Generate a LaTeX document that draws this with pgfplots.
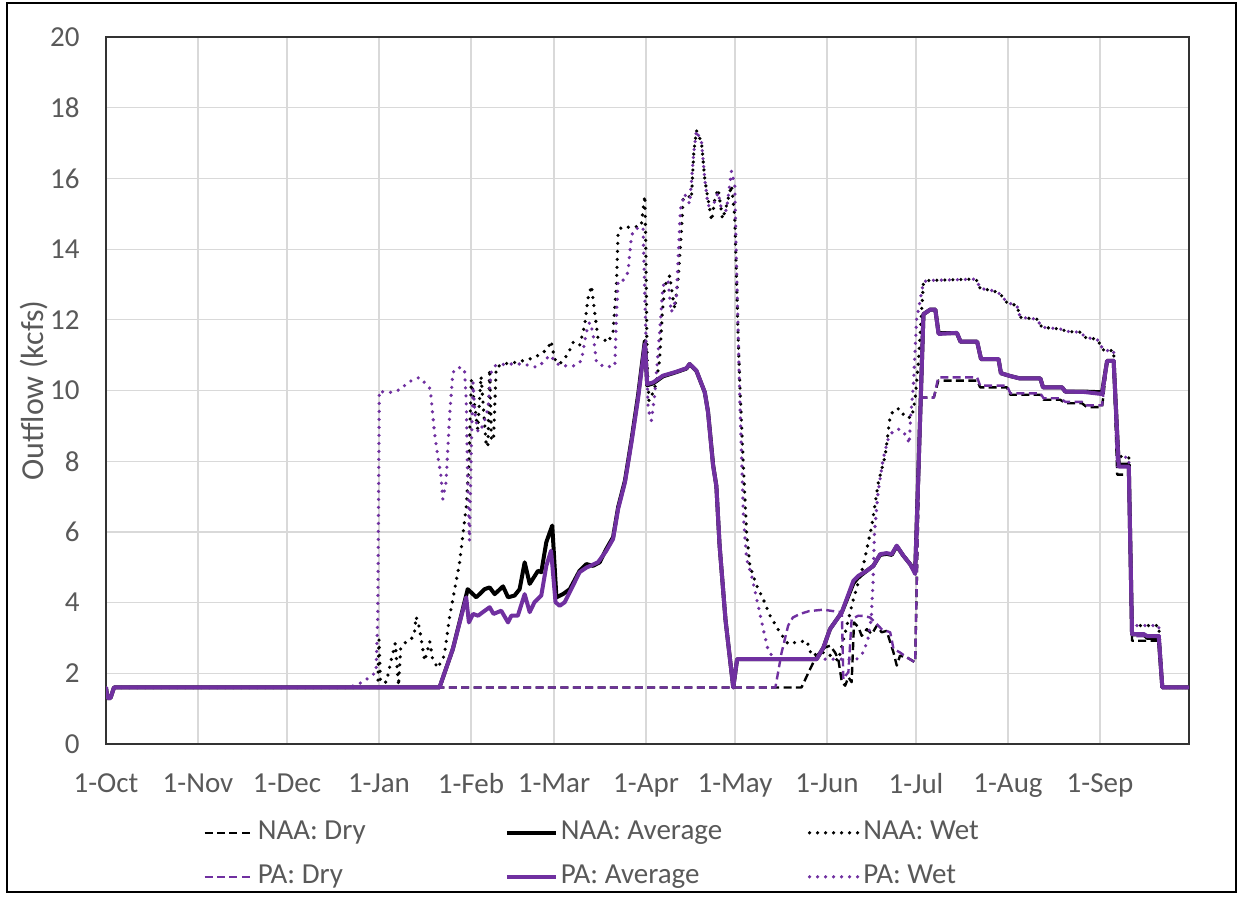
\documentclass[border=0pt]{standalone}
\usepackage{fontspec}
\setmainfont{Carlito}
\usepackage{pgfplots}
\pgfplotsset{compat=1.18}
\definecolor{pur}{HTML}{7030A0}
\definecolor{txt}{HTML}{595959}
\definecolor{grd}{HTML}{D9D9D9}
\newcommand{\lent}[1]{\makebox[125pt][l]{\hspace*{1.5pt}#1}}
\begin{document}
\begin{tikzpicture}
\begin{axis}[
 scale only axis, width=541.5pt, height=353.5pt,
 xmin=0, xmax=365, ymin=0, ymax=20,
 xtick={0,31,61,92,123,151,182,212,243,273,304,335},
 xticklabels={1-Oct,1-Nov,1-Dec,1-Jan,1-Feb,1-Mar,1-Apr,1-May,1-Jun,1-Jul,1-Aug,1-Sep},
 ytick={0,2,...,20},
 grid=major, major grid style={grd, line width=0.6pt},
 major tick length=0pt,
 axis line style={black!80, line width=0.8pt},
 tick label style={font=\fontsize{14.5}{17}\selectfont, text=txt},
 /pgf/number format/assume math mode=true,
 xticklabel style={anchor=north, inner sep=0pt, yshift=-14.5pt},
 yticklabel style={anchor=east, inner sep=0pt, xshift=-13pt},
 ylabel={Outflow (kcfs)},
 every axis y label/.style={at={(axis description cs:-0.0665,0.5)}, rotate=90, anchor=center, font=\fontsize{16}{19}\selectfont, text=txt},
 legend columns=3,
 legend style={at={(0,0)}, anchor=north west, xshift=48.5pt, yshift=-37.7pt, draw=none, fill=none, inner sep=0pt, font=\fontsize{14.5}{17}\selectfont, text=txt, /tikz/every even column/.style={column sep=0pt}, row sep=9pt, nodes={inner sep=0pt, text height=10pt, text depth=3pt}},
 legend cell align=left,
 legend image code/.code={\draw[#1] (0pt,0pt) -- (24.5pt,0pt);},
 dryst/.style={line width=1.2pt, dash pattern=on 4pt off 2.2pt, line join=round},
 avgst/.style={line width=2pt, line join=round},
 wetst/.style={line width=1.8pt, dash pattern=on 0pt off 4pt, line cap=round, line join=round},
]
% NAA: Dry
\addplot[black, dryst] coordinates {
(0,1.6)(0.5,1.3)(1.5,1.3)(2.7,1.6)(234.4,1.6)(237.3,2.12)(239.5,2.5)(242.3,2.73)(244,2.78)(245.7,2.59)(246.8,2.4)(248,1.75)(249.1,1.65)(250.2,1.89)(251.3,1.75)(252.1,3.44)(253.6,3.3)(254.7,3.06)(256.4,3.25)(258.1,3.11)(259.8,3.35)(261.4,3.16)(263.1,3.2)(264.3,2.88)(265.4,2.59)(266.5,2.22)(267.6,2.5)(269.9,2.45)(272.7,2.31)(274.5,9.8)(279,9.8)(280.5,10.28)(293.6,10.28)(294.6,10.09)(303.6,10.09)(304.8,9.88)(314.9,9.88)(316,9.74)(321.6,9.74)(323.3,9.64)(328.9,9.64)(330.6,9.53)(335.7,9.53)(337.4,10.8)(339.6,10.8)(340.8,7.62)(344.7,7.62)(345.8,2.92)(354.8,2.92)(356,1.6)(365,1.6)};
\addlegendentry{\lent{NAA: Dry}}
% NAA: Average
\addplot[black, avgst] coordinates {
(0,1.6)(0.5,1.3)(1.5,1.3)(2.7,1.6)(112.4,1.6)(116.9,2.69)(119.7,3.63)(121.9,4.38)(124.8,4.15)(127.6,4.38)(129.3,4.43)(131,4.24)(133.8,4.46)(135.5,4.15)(137.7,4.2)(139.4,4.38)(141.1,5.14)(142.8,4.53)(145.6,4.9)(146.7,4.86)(148.4,5.71)(150.4,6.18)(151.8,4.15)(154,4.24)(156.3,4.38)(159.6,4.9)(161.9,5.09)(164.1,5.04)(166.4,5.14)(168.5,5.5)(170.9,5.85)(172.6,6.7)(174.9,7.45)(177.1,8.6)(179.3,9.85)(181.6,11.4)(182.4,10.15)(184.4,10.2)(187.7,10.4)(192.2,10.52)(195.6,10.62)(196.7,10.75)(199,10.55)(201.8,9.95)(202.9,9.4)(204.6,7.9)(205.7,7.3)(206.8,5.6)(208.8,3.5)(210.3,2.4)(211.4,1.6)(212.7,2.4)(239.5,2.4)(241.8,2.73)(244,3.25)(248,3.73)(251.9,4.55)(253.6,4.72)(256.4,4.9)(258.6,5.04)(260.9,5.35)(263.1,5.38)(264.8,5.35)(266.5,5.6)(268.7,5.33)(271,5.09)(272.7,4.86)(275.5,12.16)(277.8,12.29)(279.5,12.29)(280.6,11.62)(286.8,11.62)(288,11.38)(293.6,11.38)(294.9,10.89)(300.8,10.89)(301.6,10.49)(304.7,10.41)(308.1,10.34)(314.9,10.34)(315.8,10.09)(322.2,10.09)(323.3,9.97)(329.5,9.97)(335.7,9.95)(337.4,10.84)(339.6,10.84)(341.3,7.9)(344.7,7.9)(345.8,3.1)(349.7,3.1)(351,3.0)(354.8,3.0)(356,1.6)(365,1.6)};
\addlegendentry{\lent{NAA: Average}}
% NAA: Wet
\addplot[black, wetst] coordinates {
(0,1.6)(0.5,1.3)(1.5,1.3)(2.7,1.6)(91.6,1.6)(92.0,2.95)(92.5,1.75)(94.5,1.75)(95.9,2.3)(97.5,2.85)(98.6,1.65)(99.3,2.7)(100.5,2.85)(102.7,2.95)(103.9,3.1)(104.5,3.6)(105.6,3.3)(107.4,2.35)(109.1,2.9)(110.1,2.4)(111.8,2.15)(114,2.5)(115.8,3.6)(119.1,5.1)(121.4,6.7)(122.3,7.9)(123.1,10.3)(125.3,8.9)(126.4,10.4)(128.1,8.5)(128.7,8.4)(129.3,10.6)(129.9,8.6)(130.6,8.6)(131.5,10.65)(133.7,10.75)(138.3,10.8)(142.8,10.89)(146.7,11.03)(149,11.2)(150,11.4)(151.2,10.89)(152.9,10.75)(155.7,11.03)(157.4,11.36)(159.6,11.27)(161.3,11.83)(162.4,12.59)(163.6,12.96)(164.7,12.21)(165.8,11.5)(167.5,11.46)(169.2,11.36)(170.9,11.65)(172,12.96)(172.6,14.47)(173.7,14.62)(177.6,14.62)(180.4,14.66)(181,15.13)(181.6,15.51)(181.9,14.19)(182.4,10.7)(183,9.71)(184.4,9.95)(185.5,10.23)(186.6,10.89)(187.5,12.21)(188.3,12.96)(190,13.25)(191.1,12.59)(191.7,12.31)(192.8,13.15)(193.9,14.47)(194.5,15.42)(196.2,15.51)(197.3,15.42)(198.1,16.74)(199,17.35)(200.7,17.02)(201.8,15.98)(202.9,15.42)(204.1,14.8)(205.2,15.42)(206.3,15.7)(207.8,14.85)(209.1,15.23)(210.8,15.8)(211.9,14.94)(213,11.65)(213.6,10.2)(214.8,7.87)(215.9,5.98)(217,5.04)(219.3,4.48)(221.5,4.1)(223.8,3.63)(227.1,3.16)(229.9,2.83)(232.8,2.88)(236.2,2.92)(237.8,2.5)(242.3,2.6)(245.1,2.45)(246.8,2.36)(251.9,4.1)(255.2,5.04)(258.1,6.18)(260.3,7.4)(262.6,8.15)(264.3,9.29)(265.9,9.48)(267.6,9.48)(269.3,9.24)(271.6,9.24)(272.7,9.76)(273.8,10.8)(275.5,13.06)(276.6,13.11)(292.3,13.15)(293.5,13.11)(294.6,12.89)(299.1,12.82)(301.4,12.73)(303.6,12.49)(307,12.4)(308.1,12.07)(313.7,12.02)(315.4,11.79)(321.6,11.74)(323.9,11.67)(328.4,11.65)(330.1,11.5)(334,11.45)(336.3,11.13)(339.6,11.13)(340.8,8.15)(344.7,8.1)(345.8,3.35)(354.8,3.35)(356,1.6)(365,1.6)};
\addlegendentry{\lent{NAA: Wet}}
% PA: Dry
\addplot[pur, dryst] coordinates {
(0,1.6)(0.5,1.3)(1.5,1.3)(2.7,1.6)(225.6,1.6)(227.7,2.59)(229.9,3.35)(231.5,3.58)(233.9,3.68)(237,3.76)(241.8,3.8)(245,3.76)(248,3.73)(248.5,1.83)(249.4,1.95)(250.2,2.03)(251.3,3.54)(253.6,3.63)(255.5,3.62)(257.5,3.58)(259.8,3.39)(261.4,3.25)(264.3,3.16)(265.4,2.69)(267.6,2.59)(269.9,2.45)(272.7,2.31)(274.5,9.8)(279,9.8)(280.5,10.37)(293.6,10.37)(294.6,10.14)(303.6,10.14)(304.8,9.92)(314.9,9.92)(316,9.78)(321.6,9.78)(323.3,9.68)(328.9,9.68)(330.6,9.58)(335.7,9.58)(337.4,10.85)(339.6,10.85)(340.8,7.85)(344.7,7.85)(345.8,3.05)(354.8,3.05)(356,1.6)(365,1.6)};
\addlegendentry{\lent{PA: Dry}}
% PA: Average
\addplot[pur, avgst] coordinates {
(0,1.6)(0.5,1.3)(1.5,1.3)(2.7,1.6)(112.4,1.6)(116.9,2.69)(119.7,3.6)(121.4,4.15)(122.3,3.44)(123.7,3.68)(125.4,3.63)(127,3.73)(129.3,3.87)(130.6,3.68)(133.2,3.77)(135.5,3.44)(136.6,3.63)(138.8,3.63)(141.1,4.24)(142.8,3.73)(144.4,4.01)(146.7,4.2)(148.4,5.04)(150,5.47)(151.5,4.01)(152.9,3.91)(154.6,4.01)(156.8,4.38)(159.6,4.86)(161.9,4.99)(165.8,5.14)(168.5,5.45)(170.9,5.8)(172.6,6.65)(174.9,7.4)(177.1,8.53)(179.3,9.76)(181.6,11.32)(182.4,10.18)(184.4,10.23)(187.7,10.42)(192.2,10.53)(195.6,10.63)(196.7,10.75)(199,10.56)(201.8,9.95)(202.9,9.38)(204.6,7.87)(205.7,7.31)(206.8,5.61)(208.8,3.5)(210.3,2.4)(211.4,1.6)(212.7,2.4)(239.5,2.4)(241.8,2.73)(244,3.25)(248,3.73)(251.9,4.62)(253.6,4.76)(256.4,4.9)(258.6,5.04)(260.9,5.37)(263.1,5.4)(264.8,5.37)(266.5,5.61)(268.7,5.33)(271,5.09)(272.7,4.81)(275.5,12.16)(277.8,12.29)(279.5,12.29)(280.6,11.6)(286.8,11.63)(288,11.38)(293.6,11.38)(294.9,10.89)(300.8,10.89)(301.6,10.49)(304.7,10.41)(308.1,10.34)(314.9,10.34)(315.8,10.09)(322.2,10.09)(323.3,9.97)(329.5,9.96)(335.7,9.9)(337.4,10.84)(339.6,10.84)(341.3,7.85)(344.7,7.85)(345.8,3.11)(349.7,3.11)(351,3.05)(354.8,3.05)(356,1.6)(365,1.6)};
\addlegendentry{\lent{PA: Average}}
% PA: Wet
\addplot[pur, wetst] coordinates {
(0,1.6)(0.5,1.3)(1.5,1.3)(2.7,1.6)(82,1.6)(86.5,1.75)(88.8,1.89)(91,2.03)(91.6,3.63)(92.1,9.99)(93.8,9.95)(96.6,9.95)(99.4,10.04)(101.7,10.23)(105.6,10.37)(109,10.09)(109.5,9.85)(110.7,8.82)(111.8,8.15)(112.9,7.59)(113.5,6.93)(114.6,7.4)(115.8,9.29)(116.9,10.51)(118.6,10.66)(120.8,10.61)(121.4,9.76)(121.9,7.4)(122.5,5.75)(123.1,8.34)(123.7,10.23)(124.3,9.38)(125.4,8.82)(127,9.0)(128.7,9.48)(129.8,10.51)(131,10.7)(134.9,10.75)(140.5,10.75)(145,10.66)(147.5,10.8)(149.5,11.0)(152.9,10.7)(154.6,10.7)(158,10.7)(160.2,10.84)(161.9,11.65)(163,11.93)(164.1,11.65)(165.3,10.8)(168.1,10.66)(171.5,10.7)(172,12.02)(172.6,13.11)(174.2,13.11)(175.9,13.34)(177.1,14.38)(178.2,14.57)(181,14.62)(181.9,11.65)(182.7,9.48)(183.8,9.15)(184.9,9.85)(186.6,11.65)(187.7,12.96)(189.4,13.11)(190.5,12.21)(192.2,12.59)(193.6,15.13)(195,15.56)(196.7,15.28)(198.1,16.74)(199,17.35)(200.7,17.02)(201.8,15.98)(202.9,15.23)(204.6,15.23)(206.3,15.6)(207.4,15.13)(209.1,15.09)(210.8,16.21)(211.9,15.8)(212.5,13.53)(213.6,9.76)(214.8,6.46)(215.9,5.23)(217.6,4.76)(219.8,3.91)(221.5,3.25)(223.2,2.64)(224.9,2.45)(226,2.4)(253,2.4)(255.2,2.59)(256.8,2.97)(257.9,3.54)(258.5,4.57)(259,5.98)(260.2,7.12)(261.9,8.06)(263.6,8.63)(265.3,8.86)(267.5,8.91)(269.8,8.72)(270.7,8.49)(271.2,9.29)(272.1,10.14)(273.2,12.02)(275.5,13.06)(276.6,13.11)(292.3,13.15)(293.5,13.11)(294.6,12.89)(299.1,12.82)(301.4,12.73)(303.6,12.49)(307,12.4)(308.1,12.07)(313.7,12.02)(315.4,11.79)(321.6,11.74)(323.9,11.67)(328.4,11.65)(330.1,11.5)(334,11.45)(336.3,11.13)(339.6,11.13)(340.8,8.15)(344.7,8.1)(345.8,3.35)(354.8,3.35)(356,1.6)(365,1.6)};
\addlegendentry{\lent{PA: Wet}}
\end{axis}
\pgfresetboundingbox
\useasboundingbox (-53pt,-76pt) rectangle (567.5pt,372pt);
\draw[black, line width=1pt] (-49.5pt,-74pt) rectangle (565pt,370.5pt);
\end{tikzpicture}
\end{document}
